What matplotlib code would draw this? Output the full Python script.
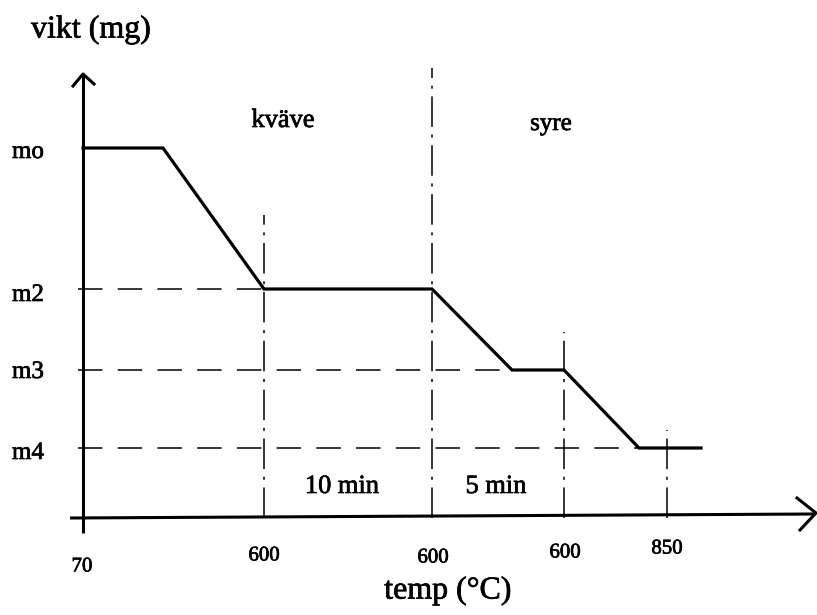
import matplotlib
matplotlib.use("Agg")
import matplotlib.pyplot as plt
import matplotlib.patheffects as pe

plt.rcParams['font.family'] = ['Liberation Serif', 'DejaVu Serif']

# Schematic TGA curve (x: position along temperature/time axis, y: mass level)
curve_x = [0, 80, 181, 349, 429, 481, 556, 618]
curve_y = [370, 370, 229, 229, 148, 148, 70, 70]

# y tick labels and their levels
ytick_labels = ["mo", "m2", "m3", "m4"]
ytick_vals = [366, 223, 146, 65]

# x tick labels (temperatures)
xtick_pos = [-1, 181, 350, 482, 584]
xtick_labels = ["70", "600", "600", "600", "850"]
xtick_y = [-49, -38, -40, -35, -31]

# vertical guide lines (x, top)
vline_x = [181, 349, 481, 584]
vline_top = [303, 450, 186, 88]
# horizontal dashed guide lines (level, end x)
hline_y = [229, 148, 70]
hline_end = [181, 429, 556]

fig = plt.figure(figsize=(8.17, 6.15), dpi=100)
ax = fig.add_axes([0, 0, 1, 1])
ax.set_xlim(-83, 734)
ax.set_ylim(-97, 518)
ax.axis('off')

fx = [pe.withStroke(linewidth=0.5, foreground='black')]

# axes
ax.plot([0, 0], [-15, 443], color='black', lw=2.2, solid_capstyle='butt')
ax.plot([-13, 732], [0, 4], color='black', lw=2.2, solid_capstyle='butt')
# arrowheads (open chevrons)
ax.plot([-10, 0, 11], [432, 444, 434], color='black', lw=2.2)
ax.plot([714, 733, 717], [20, 5, -12], color='black', lw=2.2)

# horizontal dashed lines
for yv, xe in zip(hline_y, hline_end):
    ax.plot([-5, xe], [yv, yv], color='black', lw=1.1, dashes=(16, 10))

# vertical dash-dot lines
for xv, top in zip(vline_x, vline_top):
    ax.plot([xv, xv], [0, top], color='black', lw=1.1, dashes=(20, 5, 2, 5))

# curve
ax.plot(curve_x, curve_y, color='black', lw=2.3, solid_joinstyle='miter')

# y labels
for lab, yv in zip(ytick_labels, ytick_vals):
    ax.text(-55, yv, lab, fontsize=18, ha='center', va='center', path_effects=fx)

# x labels
for xp, lab, yy in zip(xtick_pos, xtick_labels, xtick_y):
    ax.text(xp, yy, lab, fontsize=15, ha='center', va='center', path_effects=fx)

ax.text(8, 488, "vikt (mg)", fontsize=23, ha='center', va='center', path_effects=fx)
ax.text(365, -73, "temp (°C)", fontsize=23, ha='center', va='center', path_effects=fx)
ax.text(200, 397, "kväve", fontsize=19, ha='center', va='center', path_effects=fx)
ax.text(468, 394, "syre", fontsize=18, ha='center', va='center', path_effects=fx)
ax.text(259, 31, "10 min", fontsize=19, ha='center', va='center', path_effects=fx)
ax.text(413, 31, "5 min", fontsize=19, ha='center', va='center', path_effects=fx)

fig.savefig("out.png", dpi=100, facecolor='white')
